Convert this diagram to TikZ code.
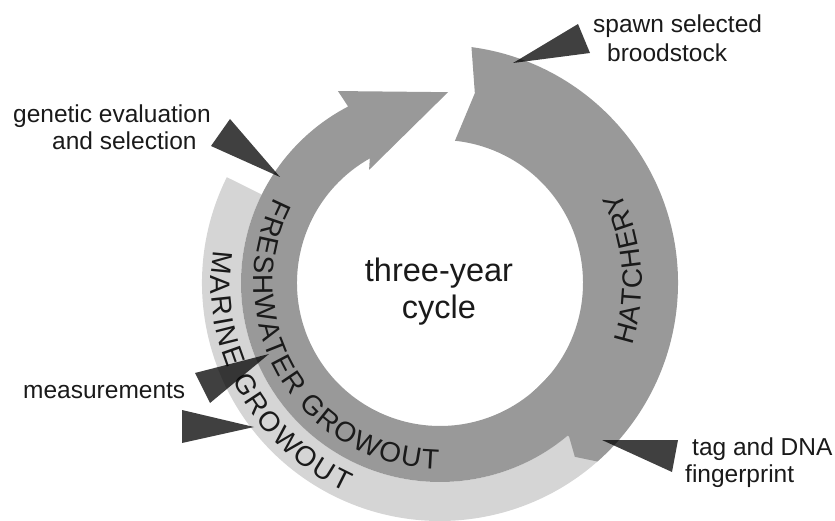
\documentclass[tikz,border=0pt]{standalone}
\usepackage{fontspec}
\setmainfont{Liberation Sans}
\usetikzlibrary{decorations.text}
\definecolor{ringdark}{HTML}{999999}
\definecolor{ringlight}{HTML}{D5D5D5}
\definecolor{inktext}{HTML}{1A1A1A}
\newcommand{\labelfont}{\fontsize{24.5}{29}\selectfont}
\newcommand{\ringfont}{\fontsize{28}{28}\selectfont}
\newcommand{\centrefont}{\fontsize{32.5}{36}\selectfont}
\begin{document}
\begin{tikzpicture}[x=1pt,y=1pt,
  wedge/.style={fill=black, fill opacity=0.75, draw=none},
  lbl/.style={font=\labelfont, text=inktext, inner sep=0pt, anchor=base west},
  midlbl/.style={font=\centrefont, text=inktext, inner sep=0pt, anchor=base}]
\useasboundingbox (0,0) rectangle (835,520);

\begin{scope}[shift={(440,237)}]
  % marine growout band (outer, light)
  \fill[ringlight] (153.6:199) -- (153.6:238)
    arc[start angle=153.6, end angle=320, radius=238]
    -- (320:199) arc[start angle=320, end angle=153.6, radius=199] -- cycle;
  % freshwater growout band ending in an arrowhead at the top
  \fill[ringdark] (320:199) arc[start angle=320, end angle=117.5, radius=199]
    -- (118:217.4) -- (87.6:191) -- (122.1:133.5) -- (119.4:143)
    arc[start angle=119.4, end angle=320, radius=143] -- cycle;
  % hatchery band with notched tail
  \fill[ringdark] (82.4:238) arc[start angle=82.4, end angle=-48.6, radius=238]
    -- (-52.2:220) -- (-50:201) -- (-50:143)
    arc[start angle=-50, end angle=84, radius=143]
    -- (79.6:193) -- cycle;

  % curved band titles
  \path[decorate, decoration={text along path, text align={fit to path},
      text color=inktext, text={|\ringfont|HATCHERY}}]
    (-18:202) arc[start angle=-18, end angle=27, radius=202];
  \path[decorate, decoration={text along path, text align={fit to path},
      text color=inktext, text={|\ringfont|FRESHWATER GROWOUT}}]
    (152.5:186) arc[start angle=152.5, end angle=269.5, radius=186];
  \path[decorate, decoration={text along path, text align={fit to path},
      text color=inktext, text={|\ringfont|MARINE GROWOUT}}]
    (171.8:229) arc[start angle=171.8, end angle=245.6, radius=229];
\end{scope}

% centre title
\node[midlbl] (cycA) at (439,238) {three-year};
\node[midlbl] (cycB) at (439,202) {cycle};

% step labels
\node[lbl] (spawnA) at (593,487) {spawn selected};
\node[lbl] (spawnB) at (607,458) {broodstock};
\node[lbl] (genA) at (13,397) {genetic evaluation};
\node[lbl] (genB) at (52,370) {and selection};
\node[lbl] (meas) at (23,122) {measurements};
\node[lbl] (tagA) at (692,65) {tag and DNA};
\node[lbl] (tagB) at (685,38) {fingerprint};

% pointer tips on the cycle
\coordinate (spawnTip) at (513,457);
\coordinate (genTip) at (280,343);
\coordinate (measTip) at (269,166);
\coordinate (marTip) at (254,93);
\coordinate (tagTip) at (602,80);

% wedge pointers
\fill[wedge] (578,496) -- (590,467) -- (spawnTip) -- cycle;
\fill[wedge] (230,401) -- (211,374) -- (genTip) -- cycle;
\fill[wedge] (195,147) -- (210,117) -- (measTip) -- cycle;
\fill[wedge] (182,110) -- (182,77) -- (marTip) -- cycle;
\fill[wedge] (678,80) -- (672,48) -- (tagTip) -- cycle;
\end{tikzpicture}
\end{document}
